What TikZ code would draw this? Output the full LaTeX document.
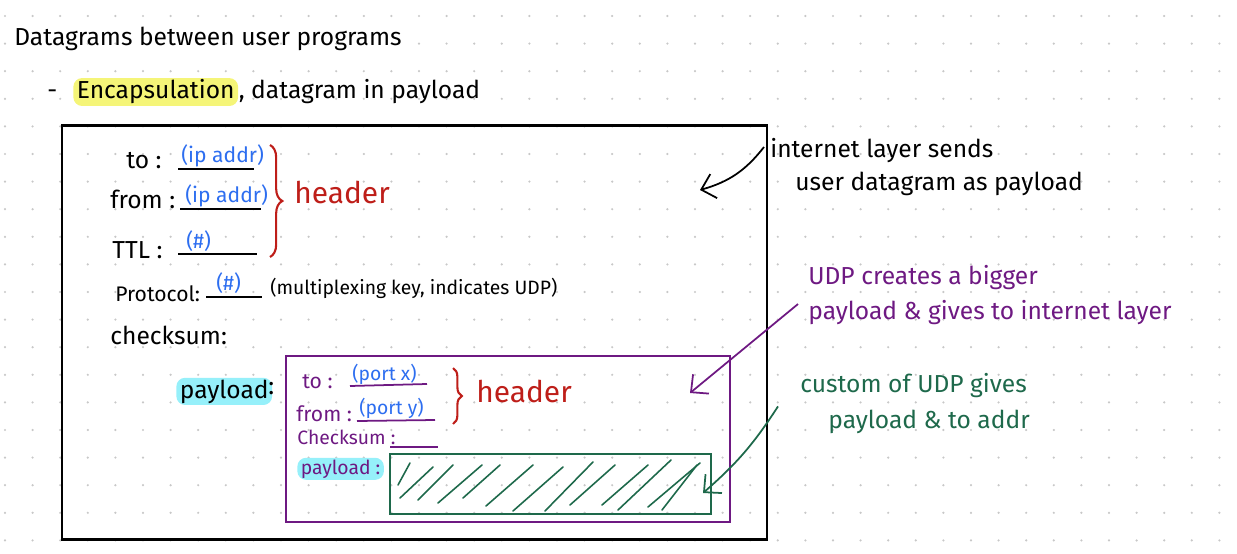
\documentclass[tikz,border=0pt]{standalone}
\usepackage{fontspec}
\setmainfont{Fira Sans}
\usetikzlibrary{positioning, arrows.meta, decorations.pathreplacing, calc}

\definecolor{inkblue}{RGB}{45,110,240}
\definecolor{inkred}{RGB}{190,30,25}
\definecolor{inkpurple}{RGB}{110,25,130}
\definecolor{inkgreen}{RGB}{30,105,75}
\definecolor{hlyellow}{RGB}{245,245,120}
\definecolor{hlcyan}{RGB}{150,240,250}
\definecolor{dotgray}{RGB}{200,200,200}

\begin{document}
\begin{tikzpicture}[
  x=0.02cm, y=-0.02cm,
  font=\fontsize{14}{16}\selectfont,
  txt/.style={anchor=base west, inner sep=0pt},
  small/.style={txt, font=\fontsize{11}{13}\selectfont},
  fieldval/.style={txt, text=inkblue, font=\fontsize{12}{14}\selectfont},
  hlmark/.style={txt, inner xsep=2pt, inner ysep=1pt, rounded corners=5pt},
  outerbox/.style={draw, line width=1.4pt, inner sep=0pt},
  udpbox/.style={draw=inkpurple, line width=1.1pt, inner sep=0pt},
  databox/.style={draw=inkgreen, line width=1.1pt, inner sep=0pt},
  blank/.style={line width=1pt},
  hdrbrace/.style={inkred, line width=1.2pt, decorate},
  arrowink/.style={-{Straight Barb[length=2.6mm, width=5mm]}, line width=1pt},
]
\useasboundingbox (0,0) rectangle (1237,554);

% dot grid
\foreach \i in {0,...,44}
  \foreach \j in {0,...,19}
    \fill[dotgray] ({5+27.6*\i},{16+27.6*\j}) circle (0.7pt);

% heading
\node[txt] (title) at (14,46) {Datagrams between user programs};
\node[txt] (dash) at (47,99) {-};
\node[hlmark, fill=hlyellow] (encap) at (73,99) {Encapsulation};
\node[txt] (encaprest) at (encap.base east) {, datagram in payload};

% IP datagram
\node[outerbox, minimum width=14.1cm, minimum height=8.28cm] (ipdgram) at (414.5,332.5) {};

\node[txt] (tolbl) at (126,168) {to :};
\node[fieldval] (toval) at (181,162) {(ip addr)};
\draw[blank] (178,169) -- (254,169);
\node[txt] (fromlbl) at (110,208) {from :};
\node[fieldval] (fromval) at (185,202) {(ip addr)};
\draw[blank] (180,209) -- (261,209);
\node[txt] (ttllbl) at (112,258) {TTL :};
\node[fieldval] (ttlval) at (186,248) {(\#)};
\draw[blank] (178,254) -- (257,254);
\draw[hdrbrace, decoration={brace, amplitude=7pt}] (270,145) -- (270,257);
\node[txt, text=inkred, font=\fontsize{17}{19}\selectfont] (iphdr) at (294,203) {header};

\node[txt, font=\fontsize{12}{14}\selectfont] (protolbl) at (115,301) {Protocol:};
\node[fieldval] (protoval) at (216,290) {(\#)};
\draw[blank] (206,297) -- (262,297);
\node[small] (protonote) at (270,294) {(multiplexing key, indicates UDP)};
\node[txt] (cklbl) at (110,344) {checksum:};

\node[hlmark, fill=hlcyan] (ippay) at (176,398) {payload};
\node[txt] (ippaycol) at (268,394) {:};

% UDP datagram
\node[udpbox, minimum width=8.88cm, minimum height=3.32cm] (udpdgram) at (508,439) {};

\node[txt, text=inkpurple, font=\fontsize{12}{14}\selectfont] (udpto) at (302,388) {to :};
\node[fieldval, font=\fontsize{11}{13}\selectfont] (udptoval) at (352,380) {(port x)};
\draw[blank, inkpurple] (350,386) -- (427,384);
\node[txt, text=inkpurple, font=\fontsize{12}{14}\selectfont] (udpfrom) at (296,421) {from :};
\node[fieldval, font=\fontsize{11}{13}\selectfont] (udpfromval) at (359,414) {(port y)};
\draw[blank, inkpurple] (357,421) -- (435,420);
\draw[hdrbrace, decoration={brace, amplitude=5pt}] (453,368) -- (453,424);
\node[txt, text=inkred, font=\fontsize{17}{19}\selectfont] (udphdr) at (476,402) {header};
\node[small, text=inkpurple] (udpck) at (297,444) {Checksum :};
\draw[blank, inkpurple] (390,447) -- (438,447);
\node[hlmark, fill=hlcyan, text=inkpurple, font=\fontsize{11}{13}\selectfont] (udppay) at (297,474) {payload :};

% user data
\node[databox, minimum width=6.42cm, minimum height=1.2cm] (userdata) at (550.5,484) {};
\foreach \xa/\ya/\xb/\yb in {398/485/410/463, 400/498/433/467, 418/500/453/465,
    438/503/482/465, 463/498/500/465, 486/506/533/465, 513/511/563/467,
    545/511/593/462, 570/505/615/465, 602/505/648/465, 618/510/671/460,
    648/507/700/463, 662/510/697/465}
  \draw[inkgreen, line width=0.9pt, line cap=round] (\xa,\ya) -- (\xb,\yb);

% notes
\node[txt] (sends) at (770,157) {internet layer sends};
\node[txt] (sendsb) at (795,190) {user datagram as payload};
\coordinate (sendstip) at (700,190);
\draw[arrowink] ($(sends.west)+(-6,-3)$) to[bend left=18] (sendstip);

\node[txt, text=inkpurple] (udpmakes) at (808,284) {UDP creates a bigger};
\node[txt, text=inkpurple] (udpmakesb) at (808,319) {payload \& gives to internet layer};
\coordinate (udptip) at (690,393);
\draw[arrowink, inkpurple] ($(udpmakesb.west)+(-10,-8)$) -- (udptip);

\node[txt, text=inkgreen] (custom) at (800,392) {custom of UDP gives};
\node[txt, text=inkgreen] (customb) at (828,428) {payload \& to addr};
\coordinate (datatip) at (703,493);
\draw[arrowink, inkgreen] ($(customb.west)+(-50,-15)$) to[bend left=8] (datatip);
\end{tikzpicture}
\end{document}
